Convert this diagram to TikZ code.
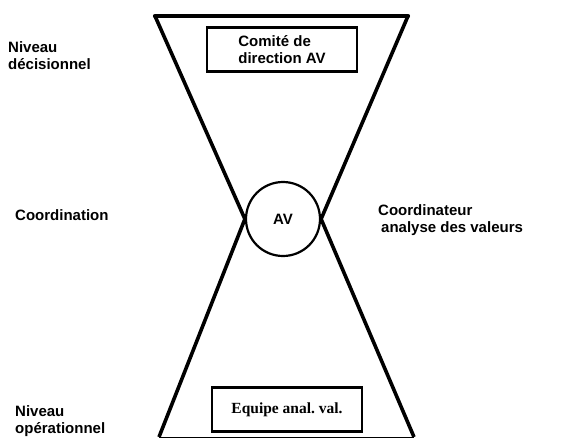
\documentclass[tikz,border=0pt]{standalone}
\usepackage{fontspec}
\setmainfont{Liberation Sans}
\newfontfamily\boxfont{Liberation Serif}
\usepackage{tikz}
\tikzset{
  block/.style    = {draw, line width=2.6pt, rectangle, minimum height = 44pt, minimum width = 150pt},
  ring/.style     = {draw, circle, line width=2.2pt, minimum size = 74pt, inner sep = 0pt},
  level/.style    = {align = left, anchor = west, inner sep = 0pt},
  side/.style     = {line width=3.6pt},
  lab/.style      = {font = \fontsize{15}{17}\selectfont\bfseries}
}

\begin{document}
\begin{tikzpicture}[x=1pt, y=-1pt, lab]
\useasboundingbox (0,0) rectangle (566,440);

% Corners of the hourglass
\coordinate (tl) at (155,16);
\coordinate (tr) at (408,16);
\coordinate (bl) at (159,437);
\coordinate (br) at (414,437);

% Boxes and circle
\node [block, align=left] (comite) at (282,49.5) {Comité de\\direction AV};
\node [ring] (av) at (283,219) {AV};
\node [block] (equipe) at (287,409.5) {\boxfont\fontsize{15.5}{17}\selectfont Equipe anal.\ val.};

% Levels
\node [level] (decision) at (8,56) {Niveau\\décisionnel};
\node [level] (coord) at (15,215) {Coordination};
\node [level] (operation) at (15,421) {Niveau\\opérationnel};
\node [level] (coordinateur) at (378,220) {Coordinateur\\\hspace*{3pt}analyse des valeurs};

% Hourglass
\draw [line width=4.2pt, line cap=round] (tl) -- (tr);
\draw [side] (tl) -- (av.west) -- (bl);
\draw [side] (tr) -- (av.east) -- (br);
\draw [line width=0.8pt] (bl) -- (br);

\end{tikzpicture}
\end{document}
